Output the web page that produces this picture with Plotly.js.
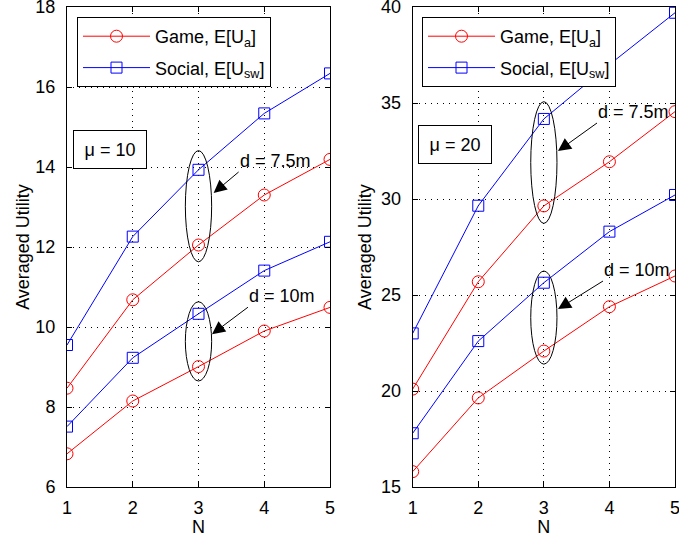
<!DOCTYPE html>
<html>
<head>
<meta charset="utf-8">
<script src="https://cdn.plot.ly/plotly-3.0.1.min.js"></script>
<style>html,body{margin:0;padding:0;background:#fff;}#chart{width:679px;height:537px;}</style>
</head>
<body>
<div id="chart"></div>
<script>
// Number of users
const N = [1, 2, 3, 4, 5];

// Panel (a): mu = 10
const gameMu10_d75 = [8.47, 10.68, 12.05, 13.30, 14.19];
const socialMu10_d75 = [9.55, 12.26, 13.93, 15.34, 16.34];
const gameMu10_d10 = [6.83, 8.15, 9.01, 9.90, 10.49];
const socialMu10_d10 = [7.51, 9.23, 10.33, 11.41, 12.13];

// Panel (b): mu = 20
const gameMu20_d75 = [20.10, 25.69, 29.64, 31.94, 34.55];
const socialMu20_d75 = [23.00, 29.65, 34.17, 37.00, 39.70];
const gameMu20_d10 = [15.80, 19.64, 22.08, 24.39, 25.99];
const socialMu20_d10 = [17.80, 22.60, 25.64, 28.30, 30.21];

const xTicks = [1, 2, 3, 4, 5];
const yTicksLeft = [6, 8, 10, 12, 14, 16, 18];
const yTicksRight = [15, 20, 25, 30, 35, 40];

const FONT = 'Liberation Sans, Arial, Helvetica, sans-serif';
const FS = 18;
const RED = '#ff0000';
const BLUE = '#0000ff';

function gameTrace(y, xa, ya, lg, show) {
  return {x: N, y: y, xaxis: xa, yaxis: ya, type: 'scatter', mode: 'lines+markers',
    name: 'Game, E[U<sub>a</sub>]', legend: lg, legendgroup: lg + '-game', showlegend: show,
    line: {color: RED, width: 1},
    marker: {symbol: 'circle-open', size: 12, color: RED, line: {width: 1, color: RED}}};
}
function socialTrace(y, xa, ya, lg, show) {
  return {x: N, y: y, xaxis: xa, yaxis: ya, type: 'scatter', mode: 'lines+markers',
    name: 'Social, E[U<sub>sw</sub>]', legend: lg, legendgroup: lg + '-social', showlegend: show,
    line: {color: BLUE, width: 1},
    marker: {symbol: 'square-open', size: 11, color: BLUE, line: {width: 1, color: BLUE}}};
}

const traces = [
  gameTrace(gameMu10_d75, 'x', 'y', 'legend', true),
  socialTrace(socialMu10_d75, 'x', 'y', 'legend', true),
  gameTrace(gameMu10_d10, 'x', 'y', 'legend', false),
  socialTrace(socialMu10_d10, 'x', 'y', 'legend', false),
  gameTrace(gameMu20_d75, 'x2', 'y2', 'legend2', true),
  socialTrace(socialMu20_d75, 'x2', 'y2', 'legend2', true),
  gameTrace(gameMu20_d10, 'x2', 'y2', 'legend2', false),
  socialTrace(socialMu20_d10, 'x2', 'y2', 'legend2', false)
];

const tickFont = {family: FONT, size: FS, color: '#000'};

function xAxis(domain, anchor) {
  return {domain: domain, anchor: anchor, range: [1, 5], tickvals: xTicks,
    ticks: 'inside', ticklen: 5, tickcolor: '#000', showline: true, linecolor: '#000',
    linewidth: 1, mirror: 'ticks', showgrid: true, gridcolor: '#000', gridwidth: 1,
    griddash: '1px,5px', zeroline: false, ticklabelstandoff: 4, ticklabeloverflow: 'allow',
    tickfont: tickFont,
    title: {text: 'N', font: tickFont, standoff: 6}};
}
function yAxis(range, ticks, anchor, titleGap) {
  return {range: range, tickvals: ticks, anchor: anchor,
    ticks: 'inside', ticklen: 5, tickcolor: '#000', showline: true, linecolor: '#000',
    linewidth: 1, mirror: 'ticks', showgrid: true, gridcolor: '#000', gridwidth: 1,
    griddash: '1px,5px', zeroline: false, ticklabelstandoff: 7, ticklabeloverflow: 'allow',
    tickfont: tickFont,
    title: {text: 'Averaged Utility', font: tickFont, standoff: titleGap}};
}

// Ellipses grouping the two curves at N = 3 for each distance
function ellipse(xa, ya, lo, hi, padLo, padHi) {
  return {type: 'circle', xref: xa, yref: ya, x0: N[2] - 0.2, x1: N[2] + 0.2,
    y0: lo - padLo, y1: hi + padHi, line: {color: '#000', width: 1}, fillcolor: 'rgba(0,0,0,0)'};
}
const shapes = [
  ellipse('x', 'y', gameMu10_d75[2], socialMu10_d75[2], 0.42, 0.48),
  ellipse('x', 'y', gameMu10_d10[2], socialMu10_d10[2], 0.36, 0.30),
  ellipse('x2', 'y2', gameMu20_d75[2], socialMu20_d75[2], 0.91, 0.90),
  ellipse('x2', 'y2', gameMu20_d10[2], socialMu20_d10[2], 0.68, 0.61)
];

// Distance labels with arrows pointing at the ellipses
function pointer(xa, ya, x, y, ax, ay, text) {
  return {xref: xa, yref: ya, x: x, y: y, ax: ax, ay: ay, text: text, showarrow: true,
    xanchor: 'left', yanchor: 'bottom', borderpad: 0,
    arrowhead: 2, arrowsize: 2.6, arrowwidth: 1, arrowcolor: '#000', standoff: 0,
    font: {family: FONT, size: FS, color: '#000'}};
}
function muBox(x, y, text) {
  return {xref: 'paper', yref: 'paper', x: x, y: y, xanchor: 'left', yanchor: 'top',
    text: text, showarrow: false, width: 72, height: 37, borderpad: 0,
    bordercolor: '#000', borderwidth: 1, bgcolor: '#fff',
    font: {family: FONT, size: FS, color: '#000'}};
}

const annotations = [
  pointer('x', 'y', 3.23, 13.35, 25, -21, 'd = 7.5m'),
  pointer('x', 'y', 3.205, 9.82, 36, -27, 'd = 10m'),
  pointer('x2', 'y2', 3.216, 32.5, 39, -28, 'd = 7.5m'),
  pointer('x2', 'y2', 3.216, 24.27, 45, -28, 'd = 10m'),
  muBox((73 - 67) / 608, 1 - (130 - 7) / 480, '\u03bc = 10'),
  muBox((418 - 67) / 608, 1 - (125 - 7) / 480, '\u03bc = 20')
];

function legendBox(x) {
  return {x: x, y: 1 - (17 - 7) / 480, xanchor: 'left', yanchor: 'top',
    bgcolor: '#fff', bordercolor: '#000', borderwidth: 1, traceorder: 'grouped',
    font: {family: FONT, size: FS, color: '#000'}, itemwidth: 67, tracegroupgap: 5};
}

const layout = {
  width: 679, height: 537,
  margin: {l: 67, r: 4, t: 7, b: 50},
  paper_bgcolor: '#fff', plot_bgcolor: '#fff',
  font: {family: FONT, size: FS, color: '#000'},
  xaxis: xAxis([0, 263 / 608], 'y'),
  yaxis: yAxis([6, 18], yTicksLeft, 'x', 1),
  xaxis2: xAxis([345.7 / 608, 1], 'y2'),
  yaxis2: yAxis([15, 40], yTicksRight, 'x2', 4),
  legend: legendBox((77 - 67) / 608),
  legend2: legendBox((422 - 67) / 608),
  shapes: shapes,
  annotations: annotations
};

Plotly.newPlot('chart', traces, layout, {staticPlot: true, displayModeBar: false});
</script>
</body>
</html>
